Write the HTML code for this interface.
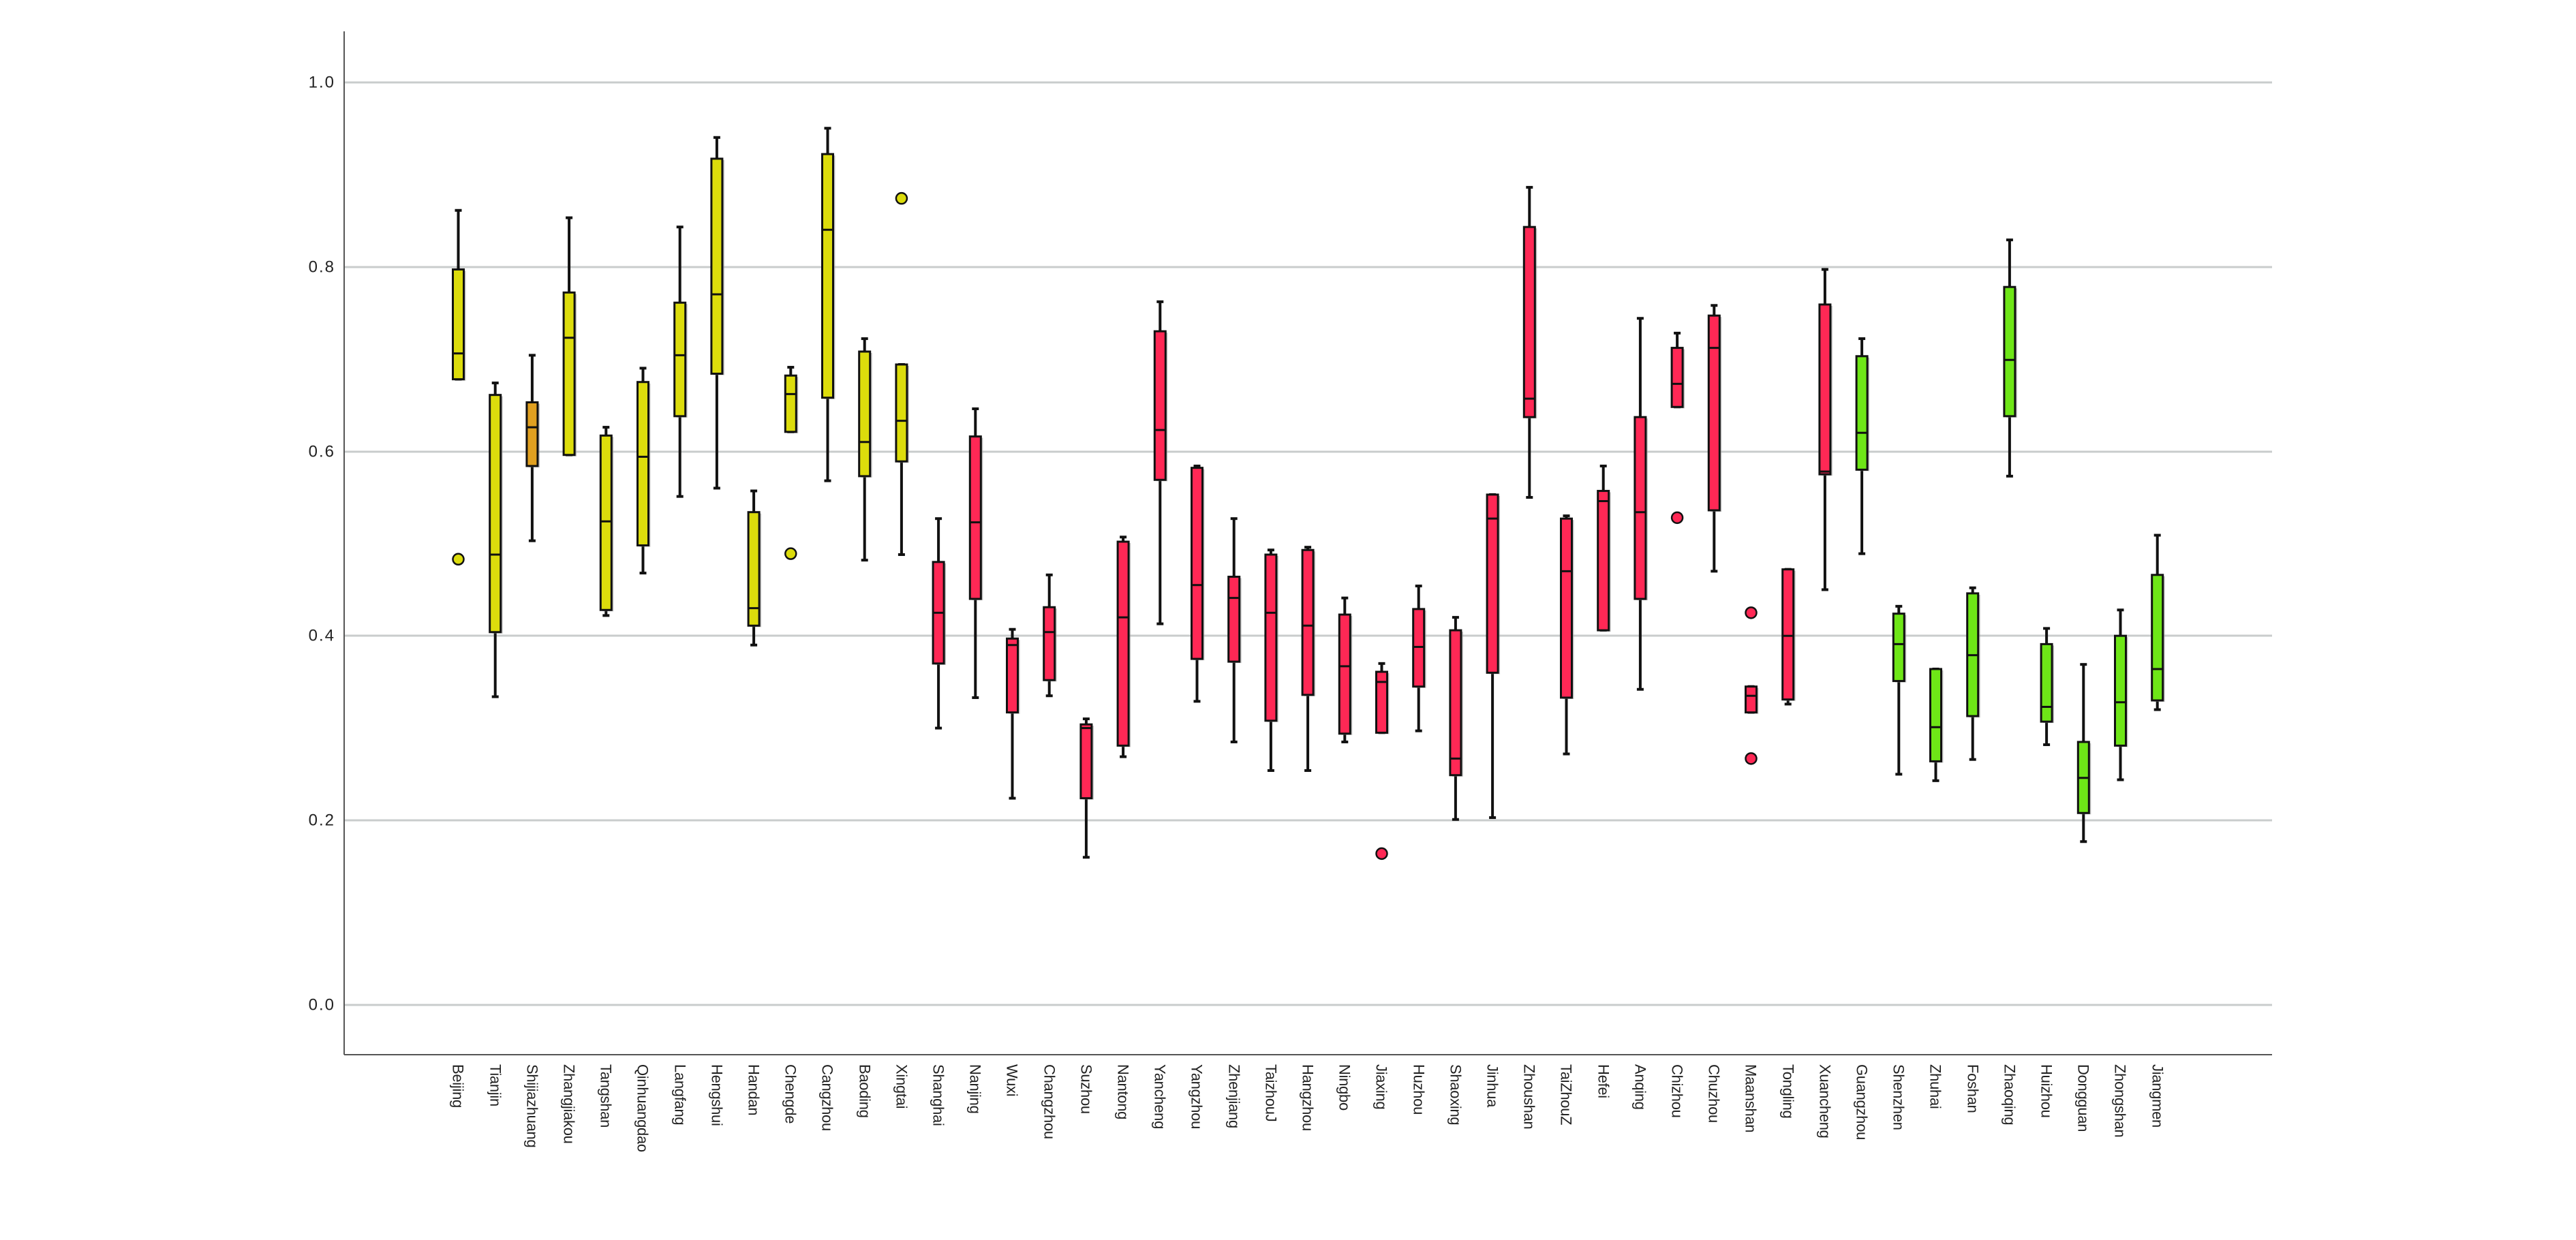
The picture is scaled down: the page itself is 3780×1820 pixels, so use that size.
<!DOCTYPE html>
<html><head><meta charset="utf-8"><style>
html,body{margin:0;padding:0;background:#fff;}
svg{display:block;}
text{font-family:"Liberation Sans",sans-serif;fill:#222;}
</style></head><body>
<svg id="s" width="3780" height="1820" xmlns="http://www.w3.org/2000/svg">
<g stroke="#c9cccc" stroke-width="3">
<line x1="505" y1="121" x2="3334" y2="121"/>
<line x1="505" y1="392" x2="3334" y2="392"/>
<line x1="505" y1="663" x2="3334" y2="663"/>
<line x1="505" y1="933" x2="3334" y2="933"/>
<line x1="505" y1="1204" x2="3334" y2="1204"/>
<line x1="505" y1="1475" x2="3334" y2="1475"/>
</g>
<g stroke="#555" stroke-width="2">
<line x1="505" y1="46" x2="505" y2="1548"/>
<line x1="505" y1="1548" x2="3334" y2="1548"/>
</g>
<g font-size="24" text-anchor="end" dominant-baseline="central" letter-spacing="2">
<text x="492" y="121">1.0</text>
<text x="492" y="392">0.8</text>
<text x="492" y="663">0.6</text>
<text x="492" y="933">0.4</text>
<text x="492" y="1204">0.2</text>
<text x="492" y="1475">0.0</text>
</g>
<g id="boxes"></g>
<g font-size="22" dominant-baseline="central" letter-spacing="-0.3">
<text transform="translate(672,1562) rotate(90)">Beijing</text>
<text transform="translate(727,1562) rotate(90)">Tianjin</text>
<text transform="translate(781,1562) rotate(90)">Shijiazhuang</text>
<text transform="translate(835,1562) rotate(90)">Zhangjiakou</text>
<text transform="translate(889,1562) rotate(90)">Tangshan</text>
<text transform="translate(943,1562) rotate(90)">Qinhuangdao</text>
<text transform="translate(998,1562) rotate(90)">Langfang</text>
<text transform="translate(1052,1562) rotate(90)">Hengshui</text>
<text transform="translate(1106,1562) rotate(90)">Handan</text>
<text transform="translate(1160,1562) rotate(90)">Chengde</text>
<text transform="translate(1214,1562) rotate(90)">Cangzhou</text>
<text transform="translate(1269,1562) rotate(90)">Baoding</text>
<text transform="translate(1323,1562) rotate(90)">Xingtai</text>
<text transform="translate(1377,1562) rotate(90)">Shanghai</text>
<text transform="translate(1431,1562) rotate(90)">Nanjing</text>
<text transform="translate(1485,1562) rotate(90)">Wuxi</text>
<text transform="translate(1540,1562) rotate(90)">Changzhou</text>
<text transform="translate(1594,1562) rotate(90)">Suzhou</text>
<text transform="translate(1648,1562) rotate(90)">Nantong</text>
<text transform="translate(1702,1562) rotate(90)">Yancheng</text>
<text transform="translate(1756,1562) rotate(90)">Yangzhou</text>
<text transform="translate(1811,1562) rotate(90)">Zhenjiang</text>
<text transform="translate(1865,1562) rotate(90)">TaizhouJ</text>
<text transform="translate(1919,1562) rotate(90)">Hangzhou</text>
<text transform="translate(1973,1562) rotate(90)">Ningbo</text>
<text transform="translate(2027,1562) rotate(90)">Jiaxing</text>
<text transform="translate(2082,1562) rotate(90)">Huzhou</text>
<text transform="translate(2136,1562) rotate(90)">Shaoxing</text>
<text transform="translate(2190,1562) rotate(90)">Jinhua</text>
<text transform="translate(2244,1562) rotate(90)">Zhoushan</text>
<text transform="translate(2298,1562) rotate(90)">TaiZhouZ</text>
<text transform="translate(2353,1562) rotate(90)">Hefei</text>
<text transform="translate(2407,1562) rotate(90)">Anqing</text>
<text transform="translate(2461,1562) rotate(90)">Chizhou</text>
<text transform="translate(2515,1562) rotate(90)">Chuzhou</text>
<text transform="translate(2569,1562) rotate(90)">Maanshan</text>
<text transform="translate(2624,1562) rotate(90)">Tongling</text>
<text transform="translate(2678,1562) rotate(90)">Xuancheng</text>
<text transform="translate(2732,1562) rotate(90)">Guangzhou</text>
<text transform="translate(2786,1562) rotate(90)">Shenzhen</text>
<text transform="translate(2840,1562) rotate(90)">Zhuhai</text>
<text transform="translate(2895,1562) rotate(90)">Foshan</text>
<text transform="translate(2949,1562) rotate(90)">Zhaoqing</text>
<text transform="translate(3003,1562) rotate(90)">Huizhou</text>
<text transform="translate(3057,1562) rotate(90)">Dongguan</text>
<text transform="translate(3111,1562) rotate(90)">Zhongshan</text>
<text transform="translate(3166,1562) rotate(90)">Jiangmen</text>
</g>
</svg>
<script>
var Y='#dcdc0c',O='#e0a020',R='#ff2855',G='#6ee617';
var d=[
[.678,.678,.706,.797,.861,Y,[.483]],
[.334,.404,.488,.661,.674,Y,[]],
[.503,.584,.626,.653,.704,O,[]],
[.596,.596,.723,.772,.853,Y,[]],
[.422,.428,.524,.617,.626,Y,[]],
[.468,.498,.594,.675,.690,Y,[]],
[.551,.638,.704,.761,.843,Y,[]],
[.560,.684,.770,.917,.940,Y,[]],
[.390,.411,.430,.534,.557,Y,[]],
[.621,.621,.662,.682,.691,Y,[.489]],
[.568,.658,.840,.922,.950,Y,[]],
[.482,.573,.610,.708,.722,Y,[]],
[.488,.589,.633,.694,.694,Y,[.874]],
[.300,.370,.425,.480,.527,R,[]],
[.333,.440,.523,.616,.646,R,[]],
[.224,.317,.390,.397,.407,R,[]],
[.335,.352,.404,.431,.466,R,[]],
[.160,.224,.300,.304,.310,R,[]],
[.269,.281,.420,.502,.507,R,[]],
[.413,.569,.623,.730,.762,R,[]],
[.329,.375,.455,.582,.584,R,[]],
[.285,.372,.441,.464,.527,R,[]],
[.254,.308,.425,.488,.493,R,[]],
[.254,.336,.411,.493,.496,R,[]],
[.285,.294,.367,.423,.441,R,[]],
[.295,.295,.350,.361,.370,R,[.164]],
[.297,.345,.388,.429,.454,R,[]],
[.201,.249,.267,.406,.420,R,[]],
[.203,.360,.527,.553,.553,R,[]],
[.550,.637,.657,.843,.886,R,[]],
[.272,.333,.470,.527,.530,R,[]],
[.406,.406,.546,.557,.584,R,[]],
[.342,.440,.534,.637,.744,R,[]],
[.648,.648,.673,.712,.728,R,[.528]],
[.470,.536,.712,.747,.758,R,[]],
[.317,.317,.335,.345,.345,R,[.425,.267]],
[.326,.331,.400,.472,.472,R,[]],
[.450,.575,.578,.759,.797,R,[]],
[.489,.580,.620,.703,.722,G,[]],
[.250,.351,.391,.424,.432,G,[]],
[.243,.264,.301,.364,.364,G,[]],
[.266,.313,.379,.446,.452,G,[]],
[.573,.638,.699,.778,.829,G,[]],
[.282,.307,.323,.391,.408,G,[]],
[.177,.208,.246,.285,.369,G,[]],
[.244,.281,.328,.400,.428,G,[]],
[.320,.330,.364,.466,.509,G,[]]
];
function y(v){return 1475-v*1354.5;}
var h='';
d.forEach(function(b,i){
 var x=672.5+54.2*i,w=16;
 var lo=y(b[0]),q1=y(b[1]),md=y(b[2]),q3=y(b[3]),tp=y(b[4]);
 h+='<line x1="'+x+'" y1="'+tp+'" x2="'+x+'" y2="'+q3+'" stroke="#111" stroke-width="4"/>';
 h+='<line x1="'+x+'" y1="'+q1+'" x2="'+x+'" y2="'+lo+'" stroke="#111" stroke-width="4"/>';
 h+='<line x1="'+(x-5)+'" y1="'+tp+'" x2="'+(x+5)+'" y2="'+tp+'" stroke="#111" stroke-width="4"/>';
 h+='<line x1="'+(x-5)+'" y1="'+lo+'" x2="'+(x+5)+'" y2="'+lo+'" stroke="#111" stroke-width="4"/>';
 h+='<rect x="'+(x-w/2+3)+'" y="'+(q3+2)+'" width="'+w+'" height="'+Math.max(q1-q3,1)+'" fill="#999" opacity="0.6"/>';
 h+='<rect x="'+(x-w/2)+'" y="'+q3+'" width="'+w+'" height="'+Math.max(q1-q3,1)+'" fill="'+b[5]+'" stroke="#111" stroke-width="3"/>';
 h+='<line x1="'+(x-w/2)+'" y1="'+md+'" x2="'+(x+w/2)+'" y2="'+md+'" stroke="#111" stroke-width="3"/>';
 b[6].forEach(function(o){h+='<circle cx="'+x+'" cy="'+y(o)+'" r="8" fill="'+b[5]+'" stroke="#111" stroke-width="2.5"/>';});
});
document.getElementById('boxes').innerHTML=h;
</script>
</body></html>
